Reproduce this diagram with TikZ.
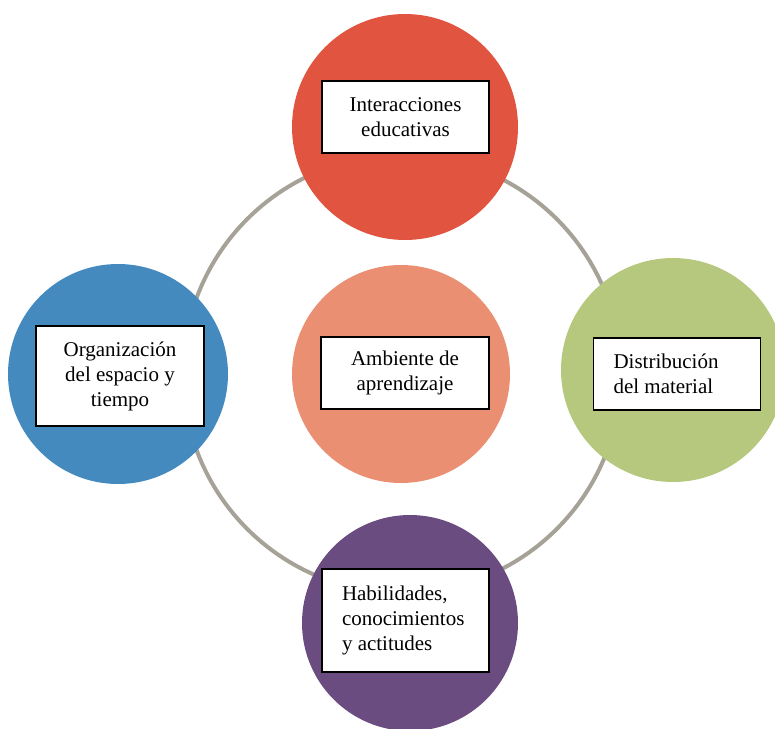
\documentclass[tikz,border=0pt]{standalone}
\usepackage{fontspec}
\setmainfont{Liberation Serif}
\definecolor{cred}{RGB}{224,84,64}
\definecolor{cblue}{RGB}{68,138,190}
\definecolor{csalmon}{RGB}{234,143,114}
\definecolor{cgreen}{RGB}{181,200,125}
\definecolor{cpurple}{RGB}{106,76,128}
\definecolor{cring}{RGB}{166,162,152}
\begin{document}
\begin{tikzpicture}[x=1pt,y=-1pt,
  disc/.style={circle,draw=none,inner sep=0pt},
  lbox/.style={rectangle,draw=black,fill=white,line width=1.2pt,font=\fontsize{21}{25}\selectfont,inner ysep=0pt},
  cbox/.style={lbox,align=center,inner xsep=0pt},
  labox/.style={lbox,align=flush left,inner xsep=20pt,text width=127pt}]
\useasboundingbox (0,0) rectangle (775,728);
\draw[cring,line width=4pt] (402,374) circle[radius=219];
\node[disc,fill=cred,minimum size=226pt] (top) at (405,127) {};
\node[disc,fill=cblue,minimum size=220pt] (left) at (118,374) {};
\node[disc,fill=csalmon,minimum size=218pt] (mid) at (401,374) {};
\node[disc,fill=cgreen,minimum size=224pt] (right) at (673,370) {};
\node[disc,fill=cpurple,minimum size=216pt] (bot) at (410,623) {};
\node[cbox,minimum width=167pt,minimum height=72pt] (ttop) at (405.5,117) {Interacciones\\educativas};
\node[cbox,minimum width=168pt,minimum height=100pt] (tleft) at (120,376) {Organización\\del espacio y\\tiempo};
\node[cbox,minimum width=168pt,minimum height=72pt] (tmid) at (405,373) {Ambiente de\\aprendizaje};
\node[labox,minimum height=72pt] (tright) at (677,374) {Distribución\\\mbox{del material}};
\node[labox,minimum height=103pt] (tbot) at (405.5,620.5) {Habilidades,\\conocimientos\\\mbox{y actitudes}};
\end{tikzpicture}
\end{document}
